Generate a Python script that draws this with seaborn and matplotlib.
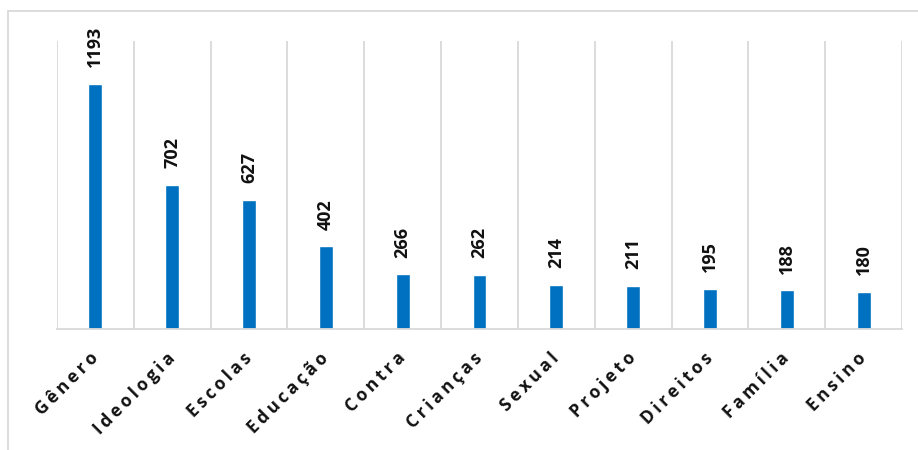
import matplotlib
matplotlib.use("Agg")
import matplotlib.pyplot as plt
import matplotlib.patches as mpatches
import seaborn as sns
import pandas as pd

categories = ["Gênero", "Ideologia", "Escolas", "Educação", "Contra",
              "Crianças", "Sexual", "Projeto", "Direitos", "Família", "Ensino"]
values = [1193, 702, 627, 402, 266, 262, 214, 211, 195, 188, 180]

sns.set_theme(style="white")
plt.rcParams['font.family'] = ['Open Sans', 'DejaVu Sans']

df = pd.DataFrame({"cat": categories, "val": values})

fig = plt.figure(figsize=(9.18, 4.5), dpi=100)
ax = fig.add_axes([57/918, 1 - 329/450, (902 - 57)/918, (329 - 41)/450])

sns.barplot(data=df, x="cat", y="val", color="#0070C0", width=0.18,
            saturation=1, ax=ax)

n = len(categories)
ax.set_xlim(-0.5, n - 0.5)
ax.set_ylim(0, 1400)

# vertical gridlines at category boundaries
for b in [i - 0.5 for i in range(n + 1)]:
    ax.axvline(b, color="#d9d9d9", lw=1.3, zorder=0)

for s in ["top", "right", "left"]:
    ax.spines[s].set_visible(False)
ax.spines["bottom"].set_color("#d9d9d9")
ax.spines["bottom"].set_linewidth(1.3)
ax.set_yticks([])
ax.set_xlabel("")
ax.set_ylabel("")

spaced = ["\u2009".join(list(c)) for c in categories]
ax.set_xticks(range(n))
ax.set_xticklabels(spaced, rotation=45, ha="right", va="center",
                   rotation_mode="anchor", fontsize=12.5, fontweight="bold",
                   color="#111111")
ax.tick_params(axis="x", length=0, pad=19)

for i, v in enumerate(values):
    ax.annotate(str(v), (i, v), xytext=(0, 12), textcoords="offset points",
                rotation=90, ha="center", va="bottom", fontsize=13,
                fontweight="bold", color="#111111")

# outer frame (left/top visible)
rect = mpatches.Rectangle((8/918, -0.2), 1.2, 1 - 11/450 + 0.2,
                          transform=fig.transFigure, fill=False,
                          edgecolor="#d9d9d9", lw=1.3)
fig.patches.append(rect)

fig.savefig("out.png", dpi=100, facecolor="white")
